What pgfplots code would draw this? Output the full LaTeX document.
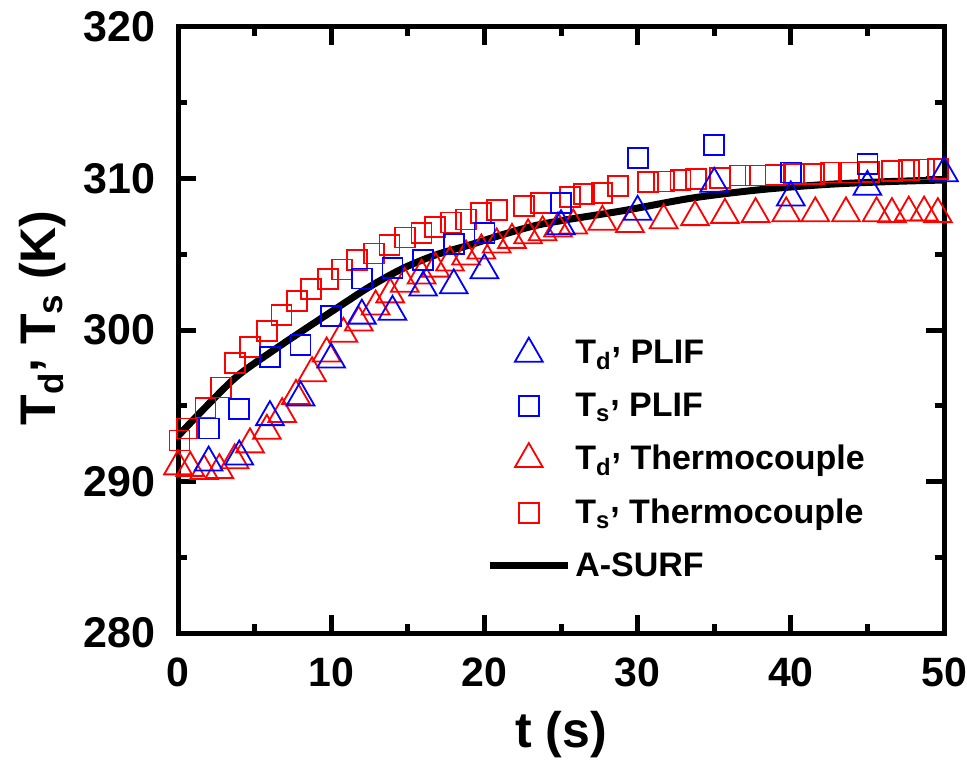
\documentclass[border=0pt]{standalone}
\usepackage{fontspec}
\setmainfont{Liberation Sans}
\usepackage{pgfplots}
\pgfplotsset{compat=1.18}
\definecolor{myblue}{RGB}{0,0,255}
\definecolor{myred}{RGB}{255,0,0}
\newcommand{\rcomma}{\raisebox{0.33em}{,}}
\begin{document}
\begin{tikzpicture}
\begin{axis}[
 width=383pt, height=303pt, scale only axis,
 xmin=0, xmax=50, ymin=280, ymax=320,
 xtick={0,10,...,50}, ytick={280,290,...,320},
 minor xtick={5,15,...,45}, minor ytick={285,295,...,315},
 tick align=inside,
 major tick length=9pt, minor tick length=4.5pt,
 every tick/.style={black, line width=2.5pt},
 axis line style={line width=2.5pt, line cap=rect},
 /pgf/number format/assume math mode=true,
 ticklabel style={font=\fontsize{21.5}{26}\selectfont\bfseries, inner sep=0pt},
 xticklabel style={yshift=-12pt, font=\fontsize{20.5}{26}\selectfont\bfseries},
 yticklabel style={xshift=-11pt},
 xlabel={t (s)},
 ylabel={T\textsubscript{d}\rcomma{} T\textsubscript{s} (K)},
 label style={font=\fontsize{25}{30}\selectfont\bfseries},
 xlabel style={at={(rel axis cs:0.5,0)}, anchor=center, yshift=-51pt},
 ylabel style={at={(rel axis cs:-0.177,0.52)}, anchor=center},
 legend style={draw=none, fill=none, at={(rel axis cs:0.402,0.49)}, anchor=north west,
   font=\fontsize{17}{20}\selectfont\bfseries, row sep=9.0pt, cells={anchor=west}, inner sep=0pt},
 legend image code/.code={\draw[mark repeat=2,mark phase=2] plot coordinates {(0pt,0pt) (19.5pt,0pt) (39pt,0pt)};},
]
\coordinate (ll) at (rel axis cs:0,0);
\coordinate (ur) at (rel axis cs:1,1);

\addlegendimage{only marks, myblue, mark=triangle, mark size=8pt, mark options={solid, line width=0.9pt}}
\addlegendentry{T\textsubscript{d}\rcomma{} PLIF}
\addlegendimage{only marks, myblue, mark=square, mark size=5pt, mark options={solid, line width=0.9pt}}
\addlegendentry{T\textsubscript{s}\rcomma{} PLIF}
\addlegendimage{only marks, myred, mark=triangle, mark size=8pt, mark options={solid, line width=0.9pt}}
\addlegendentry{T\textsubscript{d}\rcomma{} Thermocouple}
\addlegendimage{only marks, myred, mark=square, mark size=5pt, mark options={solid, line width=0.9pt}}
\addlegendentry{T\textsubscript{s}\rcomma{} Thermocouple}
\addlegendimage{black, line width=3.5pt}
\addlegendentry{A-SURF}

% Thermocouple Td
\addplot[forget plot, only marks, myred, mark=triangle, mark size=8pt, mark options={solid, line width=0.9pt}] coordinates {
(0,291.0) (0.8,290.9) (1.7,290.7) (2.7,290.75) (3.7,291.4) (4.7,292.45) (5.8,293.35) (6.8,294.45)
(7.7,295.65) (8.75,297.15) (9.7,298.45) (10.8,299.75) (11.8,300.5) (12.9,301.55) (13.85,302.35)
(14.8,303.05) (15.9,303.6) (16.8,304.05) (17.75,304.45) (18.8,304.85) (19.8,305.25) (20.8,305.65)
(21.8,305.95) (22.85,306.25) (23.8,306.45) (24.8,306.7) (25.8,306.9) (27.7,307.15) (29.5,307.0)
(31.7,307.25) (33.75,307.45) (35.7,307.6) (37.7,307.65) (39.7,307.7) (41.6,307.7) (43.6,307.7)
(45.6,307.7) (46.6,307.65) (47.7,307.75) (48.7,307.75) (49.6,307.65)
};
% Thermocouple Ts
\addplot[forget plot, only marks, myred, mark=square, mark size=5pt, mark options={solid, line width=0.9pt}] coordinates {
(0.1,292.7) (0.6,293.5) (1.8,294.85) (2.8,296.2) (3.7,297.8) (4.7,298.9) (5.8,299.95) (6.75,301.0)
(7.75,301.9) (8.7,302.7) (9.8,303.35) (10.7,304.0) (11.7,304.6) (12.8,305.05) (13.8,305.6)
(14.8,306.1) (15.9,306.4) (16.8,306.8) (17.8,307.1) (18.8,307.3) (19.8,307.7) (20.8,307.9)
(22.6,308.2) (23.7,308.4) (25.6,308.8) (26.5,309.0) (27.7,309.05) (28.7,309.5) (30.7,309.75)
(31.7,309.8) (32.8,309.9) (33.8,309.95) (35.4,310.05) (36.7,310.2) (37.7,310.2) (39.0,310.25)
(40.2,310.3) (41.5,310.3) (42.6,310.4) (43.8,310.4) (45.1,310.45) (46.6,310.5) (47.7,310.55)
(48.7,310.6) (49.6,310.65)
};
% PLIF Td
\addplot[forget plot, only marks, myblue, mark=triangle, mark size=8pt, mark options={solid, line width=0.9pt}] coordinates {
(2,291.25) (4,291.65) (6,294.25) (8,295.55) (10,298.05) (12,300.95) (14,301.2) (16,302.8)
(18,302.95) (20,303.95) (25,306.85) (30,307.8) (35,309.65) (40,308.75) (45,309.45) (50,310.35)
};
% PLIF Ts
\addplot[forget plot, only marks, myblue, mark=square, mark size=5pt, mark options={solid, line width=0.9pt}] coordinates {
(2,293.5) (4,294.8) (6,298.2) (8,299.0) (10,300.9) (12,303.4) (14,304.1) (16,304.6)
(18,305.7) (20,306.4) (25,308.4) (30,311.35) (35,312.2) (40,310.4) (45,310.95)
};
% A-SURF
\addplot[forget plot, black, line width=3.5pt, smooth, no marks] coordinates {
(0,293.0) (1.6,294.7) (3.8,296.9) (6,298.5) (8.2,300.0) (10.3,301.4) (12.5,302.85) (14.65,304.05)
(16.8,304.95) (19,305.6) (21.2,306.3) (23.35,306.9) (25.5,307.3) (29.2,307.9) (33.5,308.7)
(37.9,309.25) (42.2,309.6) (46.5,309.8) (50,309.9)
};
\end{axis}
\pgfresetboundingbox
\path ([shift={(-89pt,-63.5pt)}]ll) rectangle ([shift={(11.5pt,13.5pt)}]ur);
\end{tikzpicture}
\end{document}
